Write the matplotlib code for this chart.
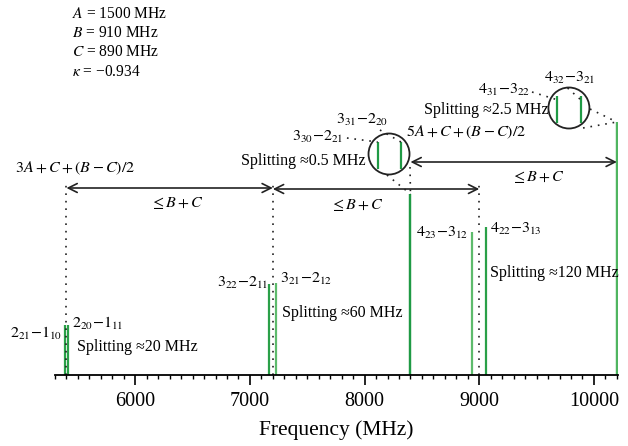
import matplotlib.pyplot as plt
from matplotlib.patches import Ellipse

plt.rcParams['font.family'] = ['Liberation Serif', 'DejaVu Serif']
plt.rcParams['mathtext.fontset'] = 'stix'

# transition frequencies (MHz) and relative heights
freqs = [5390, 5410, 7170, 7230, 8399.75, 8400.25, 8940, 9060, 10198.75, 10201.25]
heights = [50, 50, 91, 92, 181, 181, 143, 148, 253, 253]
line_colors = ['#2aa048', '#2aa048', '#2aa048', '#5dbb6c', '#1f9a45', '#1f9a45',
               '#5dbb6c', '#2aa048', '#4fb560', '#4fb560']

# band origins, (B + C) spacing arrows
centers = [5400, 7200, 9000]
center_tops = [194, 194, 190]
spans = [(5400, 7200, 187), (7200, 9000, 186), (8400, 10200, 213)]
span_labels = [(6364, 172), (7934, 170), (9512, 198)]

consts = [r'$A$ = 1500 MHz', r'$B$ = 910 MHz', r'$C$ = 890 MHz', r'$\kappa$ = −0.934']

fig = plt.figure(figsize=(6.28, 4.46), dpi=100)
ax = fig.add_axes([55 / 628, 71 / 446, 563 / 628, 375 / 446])

for f, h, c in zip(freqs, heights, line_colors):
    ax.vlines(f, 0, h, color=c, lw=1.6)

dots = dict(ls=(0, (1, 3.5)), color='#222222', lw=1.2)

for f, top in zip(centers, center_tops):
    ax.plot([f, f], [0, top], **dots)

for x0, x1, y in spans:
    ax.annotate('', xy=(x0, y), xytext=(x1, y),
                arrowprops=dict(arrowstyle='<->', lw=1.2, color='#222222',
                                mutation_scale=16, shrinkA=0, shrinkB=0))
for x, y in span_labels:
    ax.text(x, y, r'$\leq B+C$', ha='center', va='center', fontsize=11.5)

fs = 11.5
ax.text(5474, 207, r'$3A+C+(B-C)/2$', ha='center', va='center', fontsize=fs, clip_on=False)
ax.text(8884, 243, r'$5A+C+(B-C)/2$', ha='center', va='center', fontsize=fs)

# transition labels
ax.text(5361, 42, r'$2_{21}{-}1_{10}$', ha='right', va='center', fontsize=fs)
ax.text(5448, 52, r'$2_{20}{-}1_{11}$', ha='left', va='center', fontsize=fs)
ax.text(7157, 92, r'$3_{22}{-}2_{11}$', ha='right', va='center', fontsize=fs)
ax.text(7262, 96, r'$3_{21}{-}2_{12}$', ha='left', va='center', fontsize=fs)
ax.text(8902, 142, r'$4_{23}{-}3_{12}$', ha='right', va='center', fontsize=fs)
ax.text(9094, 146, r'$4_{22}{-}3_{13}$', ha='left', va='center', fontsize=fs)
ax.text(7812, 238, r'$3_{30}{-}2_{21}$', ha='right', va='center', fontsize=fs)
ax.text(7977, 255, r'$3_{31}{-}2_{20}$', ha='center', va='center', fontsize=fs)
ax.text(9442, 285, r'$4_{31}{-}3_{22}$', ha='right', va='center', fontsize=fs)
ax.text(9791, 297, r'$4_{32}{-}3_{21}$', ha='center', va='center', fontsize=fs)

ax.text(5492, 28, 'Splitting ≈20 MHz', ha='left', va='center', fontsize=fs)
ax.text(7280, 62, 'Splitting ≈60 MHz', ha='left', va='center', fontsize=fs)
ax.text(9094, 102, 'Splitting ≈120 MHz', ha='left', va='center', fontsize=fs)
ax.text(8012, 214, 'Splitting ≈0.5 MHz', ha='right', va='center', fontsize=fs)
ax.text(9608, 265, 'Splitting ≈2.5 MHz', ha='right', va='center', fontsize=fs)

# magnified views of the close doublets, joined to the real line top
xpx = (10210 - 5300) / 563
zooms = [(8213, 221, 8400, 181, [(183, -13), (-18, -21)]),
         (9782, 267, 10200, 253, [(184, -1), (123, -20)])]
for cx, cy, f, h, joins in zooms:
    ax.add_patch(Ellipse((cx, cy), 2 * 20.5 * xpx, 41, fill=False, lw=1.3, color='#222222'))
    ax.vlines([cx - 100, cx + 103], cy - 15, cy + 12, color='#1f9a45', lw=1.6)
    for dx, dy in joins:
        ax.plot([cx + dx, f], [cy + dy, h], **dots)

ax.plot([7846, 8114], [237, 233], **dots)
ax.plot([8134, 8317], [245, 233], **dots)
ax.plot([9460, 9686], [283, 275], **dots)
ax.plot([9770, 9887], [287, 275], **dots)

for i, s in enumerate(consts):
    fig.text(72 / 628, 1 - (14 + 19.2 * i) / 446, s, ha='left', va='center', fontsize=11.2)

ax.set_xlim(5300, 10210)
ax.set_ylim(0, 375)
ax.set_xticks([6000, 7000, 8000, 9000, 10000])
ax.set_xticks(range(5300, 10300, 100), minor=True)
ax.tick_params(axis='x', which='major', length=7, width=1.2, labelsize=14.5,
               direction='out', pad=5)
ax.tick_params(axis='x', which='minor', length=3, width=1.0, direction='out')
ax.set_yticks([])
for s in ['left', 'right', 'top']:
    ax.spines[s].set_visible(False)
ax.spines['bottom'].set_linewidth(1.3)
ax.set_xlabel('Frequency (MHz)', fontsize=15.5, labelpad=7)
ax.patch.set_alpha(0)

fig.savefig('out.png', dpi=100)
